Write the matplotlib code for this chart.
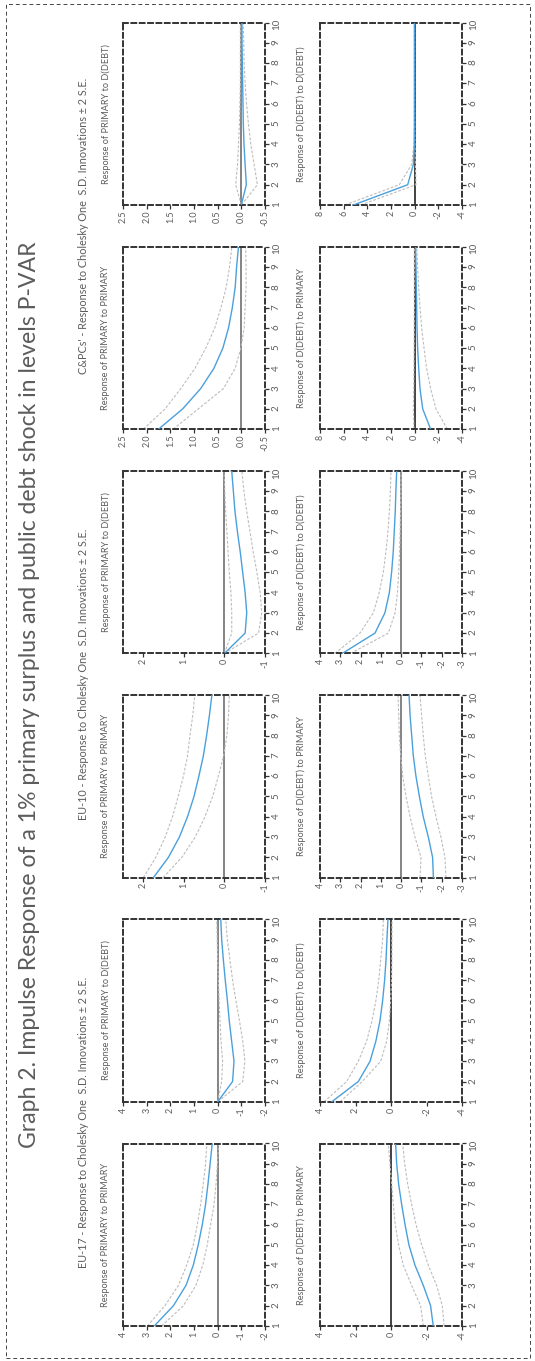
import numpy as np
import matplotlib
matplotlib.use("Agg")
import matplotlib.pyplot as plt
from matplotlib.patches import Rectangle

plt.rcParams["font.family"] = ["Lato", "DejaVu Sans"]
plt.rcParams["axes.unicode_minus"] = False

# ---- data: impulse responses (horizon 1..10), point estimate and +/- 2 S.E. ----
horizon = [1, 2, 3, 4, 5, 6, 7, 8, 9, 10]

# EU-17
eu17_prim_prim = [2.68, 1.87, 1.34, 1.03, 0.82, 0.65, 0.51, 0.41, 0.32, 0.23]
eu17_prim_prim_hi = [2.97, 2.23, 1.66, 1.31, 1.03, 0.86, 0.72, 0.61, 0.51, 0.46]
eu17_prim_prim_lo = [2.37, 1.45, 0.92, 0.63, 0.44, 0.30, 0.15, 0.07, 0.01, -0.04]
eu17_prim_debt = [0.0, -0.63, -0.69, -0.59, -0.49, -0.41, -0.32, -0.24, -0.17, -0.13]
eu17_prim_debt_hi = [0.0, -0.17, -0.21, -0.14, -0.10, -0.06, -0.03, 0.0, 0.02, 0.04]
eu17_prim_debt_lo = [0.0, -1.06, -1.15, -1.06, -0.92, -0.77, -0.63, -0.52, -0.41, -0.34]
eu17_debt_prim = [-2.38, -2.23, -1.82, -1.35, -1.01, -0.79, -0.60, -0.43, -0.32, -0.26]
eu17_debt_prim_hi = [-1.82, -1.67, -1.16, -0.69, -0.43, -0.24, -0.13, -0.04, 0.06, 0.15]
eu17_debt_prim_lo = [-2.99, -2.89, -2.57, -2.10, -1.73, -1.41, -1.16, -0.94, -0.77, -0.66]
eu17_debt_debt = [3.34, 1.84, 1.18, 0.85, 0.62, 0.47, 0.36, 0.28, 0.23, 0.17]
eu17_debt_debt_hi = [3.77, 2.50, 1.84, 1.37, 1.07, 0.85, 0.69, 0.58, 0.47, 0.43]
eu17_debt_debt_lo = [2.87, 1.62, 0.58, 0.24, 0.09, 0.02, -0.03, -0.05, -0.05, -0.06]

# EU-10
eu10_prim_prim = [1.75, 1.38, 1.11, 0.91, 0.75, 0.63, 0.52, 0.44, 0.37, 0.31]
eu10_prim_prim_hi = [2.00, 1.69, 1.46, 1.28, 1.14, 1.01, 0.91, 0.85, 0.78, 0.73]
eu10_prim_prim_lo = [1.51, 1.05, 0.72, 0.48, 0.29, 0.15, 0.02, -0.06, -0.10, -0.12]
eu10_prim_debt = [0.0, -0.51, -0.55, -0.51, -0.45, -0.39, -0.32, -0.26, -0.22, -0.18]
eu10_prim_debt_hi = [0.0, -0.18, -0.18, -0.16, -0.12, -0.09, -0.06, -0.03, -0.01, 0.01]
eu10_prim_debt_lo = [0.0, -0.84, -0.92, -0.88, -0.80, -0.71, -0.63, -0.55, -0.48, -0.43]
eu10_debt_prim = [-1.59, -1.55, -1.34, -1.09, -0.90, -0.73, -0.60, -0.52, -0.44, -0.39]
eu10_debt_prim_hi = [-0.93, -0.98, -0.68, -0.44, -0.24, -0.08, 0.02, 0.09, 0.12, 0.15]
eu10_debt_prim_lo = [-2.21, -2.16, -1.96, -1.72, -1.50, -1.34, -1.19, -1.09, -1.01, -0.93]
eu10_debt_debt = [2.90, 1.29, 0.80, 0.58, 0.47, 0.39, 0.34, 0.29, 0.26, 0.22]
eu10_debt_debt_hi = [3.26, 2.03, 1.37, 1.08, 0.88, 0.75, 0.65, 0.58, 0.53, 0.50]
eu10_debt_debt_lo = [2.49, 0.63, 0.30, 0.18, 0.12, 0.08, 0.05, 0.03, 0.01, 0.0]

# C&PCs
cp_prim_prim = [1.75, 1.24, 0.86, 0.58, 0.39, 0.27, 0.19, 0.13, 0.10, 0.06]
cp_prim_prim_hi = [2.07, 1.61, 1.28, 0.98, 0.75, 0.56, 0.43, 0.32, 0.25, 0.20]
cp_prim_prim_lo = [1.44, 0.91, 0.38, 0.13, 0.01, -0.06, -0.08, -0.10, -0.10, -0.09]
cp_prim_debt = [0.0, -0.105, -0.08, -0.056, -0.042, -0.035, -0.028, -0.021, -0.014, -0.014]
cp_prim_debt_hi = [0.0, 0.12, 0.08, 0.06, 0.04, 0.03, 0.02, 0.02, 0.02, 0.02]
cp_prim_debt_lo = [0.0, -0.34, -0.27, -0.20, -0.15, -0.11, -0.08, -0.06, -0.05, -0.04]
cp_debt_prim = [-1.35, -0.68, -0.45, -0.34, -0.25, -0.20, -0.17, -0.14, -0.11, -0.08]
cp_debt_prim_hi = [0.06, 0.11, 0.08, 0.06, 0.05, 0.04, 0.03, 0.03, 0.03, 0.03]
cp_debt_prim_lo = [-2.76, -1.80, -1.35, -1.01, -0.79, -0.59, -0.45, -0.34, -0.25, -0.17]
cp_debt_debt = [5.18, 0.59, 0.11, 0.03, 0.02, 0.02, 0.02, 0.02, 0.02, 0.02]
cp_debt_debt_hi = [5.89, 1.30, 0.25, 0.06, 0.04, 0.03, 0.03, 0.03, 0.03, 0.03]
cp_debt_debt_lo = [4.56, -0.11, -0.06, -0.02, -0.01, 0.0, 0.0, 0.0, 0.0, 0.0]

# value-axis ticks per group: (top row, bottom row)
eu17_ticks = ([-2, -1, 0, 1, 2, 3, 4], [-4, -2, 0, 2, 4])
eu10_ticks = ([-1, 0, 1, 2], [-3, -2, -1, 0, 1, 2, 3, 4])
cp_ticks = ([-0.5, 0.0, 0.5, 1.0, 1.5, 2.0, 2.5], [-4, -2, 0, 2, 4, 6, 8])
eu17_lims = ((-2, 4), (-4, 4))
eu10_lims = ((-1, 2.5), (-3, 4))
cp_lims = ((-0.5, 2.5), (-4, 8))

TITLE = "Graph 2. Impulse Response of a 1% primary surplus and public debt shock in levels P-VAR"
GROUP_TITLES = ["EU-17 - Response to Cholesky One  S.D. Innovations ± 2 S.E.",
                "EU-10 - Response to Cholesky One  S.D. Innovations ± 2 S.E.",
                "C&PCs' - Response to Cholesky One  S.D. Innovations ± 2 S.E."]
PANEL_TITLES = [["Response of PRIMARY to PRIMARY", "Response of D(DEBT) to PRIMARY"],
                ["Response of PRIMARY to D(DEBT)", "Response of D(DEBT) to D(DEBT)"]]

# column layout: (group, shock) -> top-row and bottom-row series
columns = [
    (0, 0, (eu17_prim_prim, eu17_prim_prim_lo, eu17_prim_prim_hi),
     (eu17_debt_prim, eu17_debt_prim_lo, eu17_debt_prim_hi), eu17_ticks, eu17_lims),
    (0, 1, (eu17_prim_debt, eu17_prim_debt_lo, eu17_prim_debt_hi),
     (eu17_debt_debt, eu17_debt_debt_lo, eu17_debt_debt_hi), eu17_ticks, eu17_lims),
    (1, 0, (eu10_prim_prim, eu10_prim_prim_lo, eu10_prim_prim_hi),
     (eu10_debt_prim, eu10_debt_prim_lo, eu10_debt_prim_hi), eu10_ticks, eu10_lims),
    (1, 1, (eu10_prim_debt, eu10_prim_debt_lo, eu10_prim_debt_hi),
     (eu10_debt_debt, eu10_debt_debt_lo, eu10_debt_debt_hi), eu10_ticks, eu10_lims),
    (2, 0, (cp_prim_prim, cp_prim_prim_lo, cp_prim_prim_hi),
     (cp_debt_prim, cp_debt_prim_lo, cp_debt_prim_hi), cp_ticks, cp_lims),
    (2, 1, (cp_prim_debt, cp_prim_debt_lo, cp_prim_debt_hi),
     (cp_debt_debt, cp_debt_debt_lo, cp_debt_debt_hi), cp_ticks, cp_lims),
]

W, H = 535, 1361
fig = plt.figure(figsize=(W / 100, H / 100), dpi=100)
fig.patch.set_facecolor("white")
TXT = "#5c5c5c"


def px_box(x0, x1, ytop, ybot):
    return [x0 / W, 1 - ybot / H, (x1 - x0) / W, (ybot - ytop) / H]


def fmt(v, decimals):
    return f"{v:.1f}" if decimals else f"{int(v)}"


def draw_panel(ax, series, ticks, lims, zero_col):
    mid, lo, hi = series
    ax.axvline(0, color=zero_col, lw=1.2, zorder=1)
    ax.plot(lo, horizon, color="#bdbdbd", lw=0.8, ls=(0, (2.5, 1.5)), zorder=2)
    ax.plot(hi, horizon, color="#bdbdbd", lw=0.8, ls=(0, (2.5, 1.5)), zorder=2)
    ax.plot(mid, horizon, color="#4aa0dc", lw=1.0, zorder=3)
    ax.set_xlim(lims[1], lims[0])            # rotated page: positive values to the left
    ax.set_ylim(1, 10)
    dec = any(t != int(t) for t in ticks)
    ax.set_xticks(ticks)
    ax.set_xticklabels([fmt(t, dec) for t in ticks])
    ax.set_yticks(horizon)
    ax.yaxis.tick_right()
    ax.tick_params(axis="x", direction="out", length=3, width=0.9, color="#333333",
                   labelsize=6.5, labelcolor=TXT, labelrotation=90, pad=1)
    ax.tick_params(axis="y", direction="out", length=3, width=0.9, color="#333333",
                   labelsize=7, labelcolor=TXT, labelrotation=90, pad=2)
    for sp in ax.spines.values():
        sp.set_linestyle((0, (2.5, 1.8)))
        sp.set_linewidth(1.4)
        sp.set_color("#333333")


top_x, bot_x = (123, 265), (320, 462)
for i, (grp, shock, top_s, bot_s, ticks, lims) in enumerate(columns):
    ybot = 1326 - 224.2 * i
    ytop = ybot - 182.5
    ax_t = fig.add_axes(px_box(top_x[0], top_x[1], ytop, ybot))
    draw_panel(ax_t, top_s, ticks[0], lims[0], "#707070")
    ax_b = fig.add_axes(px_box(bot_x[0], bot_x[1], ytop, ybot))
    draw_panel(ax_b, bot_s, ticks[1], lims[1], "#222222" if grp != 1 else "#707070")
    yc = 1 - (ytop + ybot) / 2 / H
    fig.text(106 / W, yc, PANEL_TITLES[shock][0], rotation=90, ha="center", va="center",
             fontsize=6.6, color=TXT)
    fig.text(301 / W, yc, PANEL_TITLES[shock][1], rotation=90, ha="center", va="center",
             fontsize=6.6, color=TXT)

for g in range(3):
    ybot = 1326 - 224.2 * (2 * g)
    ytop = ybot - 224.2 - 182.5
    fig.text(84 / W, 1 - (ytop + ybot) / 2 / H, GROUP_TITLES[g], rotation=90,
             ha="center", va="center", fontsize=7.8, color=TXT)

fig.text(30 / W, 1 - 695 / H, TITLE, rotation=90, ha="center", va="center",
         fontsize=16.6, color=TXT)

fig.patches.append(Rectangle((6 / W, 3 / H), 524 / W, 1354 / H, transform=fig.transFigure,
                             fill=False, ls=(0, (4, 3)), lw=0.7, ec="#444444"))

fig.savefig("out.png", dpi=100, facecolor="white")
